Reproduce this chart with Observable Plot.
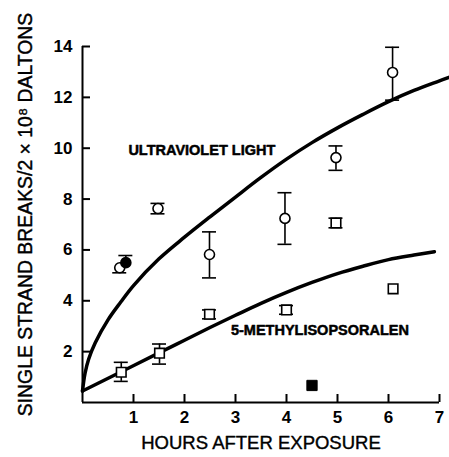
<!DOCTYPE html>
<html>
<head>
<meta charset="utf-8">
<script src="https://cdn.jsdelivr.net/npm/d3@7"></script>
<script src="https://cdn.jsdelivr.net/npm/@observablehq/plot@0.6"></script>
<style>
  html, body { margin: 0; padding: 0; background: #fff; overflow: hidden; }
</style>
</head>
<body>
<div id="chart"></div>
<script>
// ---- tick labels ----
const xTicks = [1, 2, 3, 4, 5, 6, 7];
const yTicks = [2, 4, 6, 8, 10, 12, 14];

// ---- fitted curves ----
const uvCurveX = [0, 0.05, 0.12, 0.25, 0.5, 0.75, 1, 1.5, 2, 2.5, 3, 3.5, 4, 4.5, 5, 5.5, 6, 6.5, 7, 7.2];
const uvCurveY = [0.45, 1.15, 1.7, 2.35, 3.25, 3.95, 4.6, 5.65, 6.5, 7.3, 8.08, 8.85, 9.57, 10.22, 10.8, 11.33, 11.83, 12.27, 12.65, 12.8];
const mipCurveX = [0, 0.75, 1.5, 2, 2.5, 3, 3.5, 4, 4.5, 5, 5.5, 6, 6.5, 6.9];
const mipCurveY = [0.45, 1.2, 1.95, 2.45, 2.95, 3.43, 3.9, 4.33, 4.72, 5.07, 5.36, 5.62, 5.8, 5.93];

// ---- ultraviolet light (open circles) ----
const uvX  = [0.73, 1.48, 2.49, 3.97, 4.97, 6.08];
const uvY  = [5.3, 7.63, 5.82, 7.24, 9.63, 12.98];
const uvLo = [5.1, 7.42, 4.9, 6.22, 9.13, 11.89];
const uvHi = [null, 7.83, 6.71, 8.25, 10.09, 13.97];

// ---- ultraviolet light control (filled circle) ----
const uvCtrlX  = [0.85];
const uvCtrlY  = [5.5];
const uvCtrlLo = [null];
const uvCtrlHi = [5.78];

// ---- 5-methylisopsoralen (open squares) ----
const mipX  = [0.76, 1.51, 2.49, 4.0, 4.97, 6.09];
const mipY  = [1.19, 1.94, 3.47, 3.64, 7.06, 4.47];
const mipLo = [0.83, 1.51, 3.29, 3.47, 6.87, null];
const mipHi = [1.58, 2.3, 3.64, 3.81, 7.25, null];

// ---- 5-methylisopsoralen control (filled square) ----
const mipCtrlX = [4.5];
const mipCtrlY = [0.67];

// ---- build tables ----
const rows = (xs, ys, los, his) => xs.map((x, i) => ({x, y: ys[i], lo: los ? los[i] : null, hi: his ? his[i] : null}));
const uvCurve = uvCurveX.map((x, i) => ({x, y: uvCurveY[i]}));
const mipCurve = mipCurveX.map((x, i) => ({x, y: mipCurveY[i]}));
const uv = rows(uvX, uvY, uvLo, uvHi);
const uvCtrl = rows(uvCtrlX, uvCtrlY, uvCtrlLo, uvCtrlHi);
const mip = rows(mipX, mipY, mipLo, mipHi);
const mipCtrl = rows(mipCtrlX, mipCtrlY);
const allPts = [...uv, ...uvCtrl, ...mip];
const loCaps = allPts.filter(d => d.lo != null);
const hiCaps = allPts.filter(d => d.hi != null);

const FONT = "Liberation Sans, Arial, sans-serif";

const chart = Plot.plot({
  width: 449,
  height: 457,
  marginLeft: 82,
  marginRight: 10,
  marginTop: 46,
  marginBottom: 55,
  x: {domain: [0, 7], axis: null},
  y: {domain: [0, 14], axis: null},
  style: {fontFamily: FONT, background: "white", color: "black"},
  marks: [
    // axes
    Plot.ruleY([0], {x1: 0, x2: 7, stroke: "black", strokeWidth: 2}),
    Plot.ruleX([0], {y1: 0, y2: 14, stroke: "black", strokeWidth: 2}),
    Plot.ruleX(xTicks, {x: d => d, y1: 0, y2: 0, insetTop: -8, stroke: "black", strokeWidth: 2}),
    Plot.ruleY(yTicks, {y: d => d, x1: 0, x2: 0, insetRight: -8, stroke: "black", strokeWidth: 2}),
    Plot.text(xTicks, {x: d => d, y: 0, dy: 15, text: d => String(d), fontSize: 17, fontWeight: "bold", fill: "black"}),
    Plot.text(yTicks, {x: 0, y: d => d, dx: -10, textAnchor: "end", text: d => String(d), fontSize: 17, fontWeight: "bold", fill: "black"}),
    // axis titles
    Plot.text(["HOURS AFTER EXPOSURE"], {frameAnchor: "bottom", dy: 46, textAnchor: "middle", text: d => d, fontSize: 18.5, fill: "black", stroke: "black", strokeWidth: 0.4}),
    Plot.text(["SINGLE STRAND BREAKS/2 × 10⁸ DALTONS"], {frameAnchor: "left", textAnchor: "middle", dx: -57, dy: -10, rotate: -90, text: d => d, fontSize: 19.4, fill: "black", stroke: "black", strokeWidth: 0.4}),
    // curves
    Plot.line(uvCurve, {x: "x", y: "y", curve: "catmull-rom", stroke: "black", strokeWidth: 3.5}),
    Plot.line(mipCurve, {x: "x", y: "y", curve: "catmull-rom", stroke: "black", strokeWidth: 3.5}),
    // curve labels
    Plot.text(["ULTRAVIOLET LIGHT"], {x: 0.9, y: 9.92, textAnchor: "start", text: d => d, fontSize: 14.5, fontWeight: "bold", fill: "black", stroke: "black", strokeWidth: 0.5}),
    Plot.text(["5-METHYLISOPSORALEN"], {x: 2.91, y: 2.83, textAnchor: "start", text: d => d, fontSize: 14.5, fontWeight: "bold", fill: "black", stroke: "black", strokeWidth: 0.5}),
    // error bars
    Plot.ruleX(allPts, {x: "x", y1: d => d.lo ?? d.y, y2: d => d.hi ?? d.y, stroke: "black", strokeWidth: 1.6}),
    Plot.ruleY(loCaps, {y: "lo", x1: "x", x2: "x", insetLeft: -7, insetRight: -7, stroke: "black", strokeWidth: 1.6}),
    Plot.ruleY(hiCaps, {y: "hi", x1: "x", x2: "x", insetLeft: -7, insetRight: -7, stroke: "black", strokeWidth: 1.6}),
    // points
    Plot.dot(uv, {x: "x", y: "y", r: 5, fill: "white", stroke: "black", strokeWidth: 1.6}),
    Plot.dot(uvCtrl, {x: "x", y: "y", r: 5, fill: "black", stroke: "black", strokeWidth: 1.6}),
    Plot.dot(mip, {x: "x", y: "y", r: 5.4, symbol: "square", fill: "white", stroke: "black", strokeWidth: 1.6}),
    Plot.dot(mipCtrl, {x: "x", y: "y", r: 5.8, symbol: "square", fill: "black", stroke: "black", strokeWidth: 1})
  ]
});
document.getElementById("chart").appendChild(chart);
</script>
</body>
</html>
